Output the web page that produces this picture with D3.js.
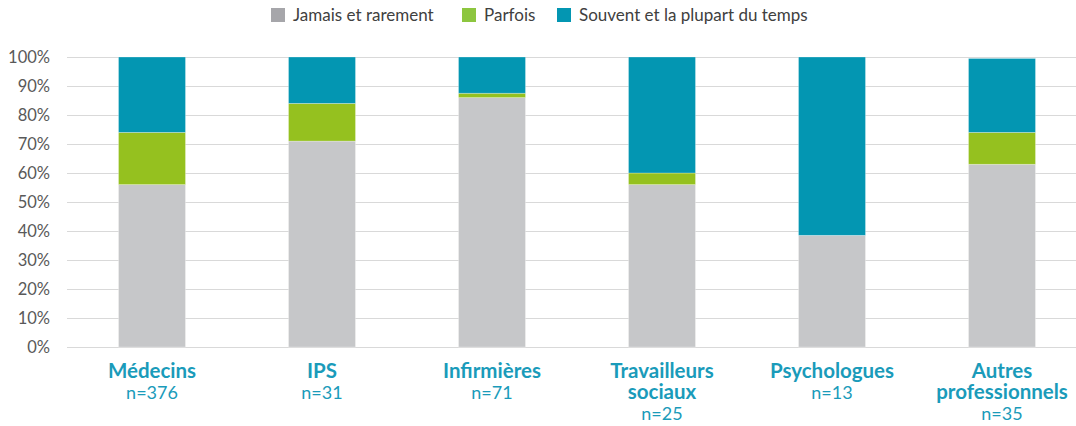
<!DOCTYPE html>
<html>
<head>
<meta charset="utf-8">
<script src="https://cdn.jsdelivr.net/npm/d3@7"></script>
<style>
  body { margin: 0; background: #fff; }
  svg text { font-family: Lato, "Open Sans", sans-serif; }
</style>
</head>
<body>
<div id="chart"></div>
<script>
// categories and sample sizes
var categories = ["Médecins", "IPS", "Infirmières", "Travailleurs sociaux", "Psychologues", "Autres professionnels"];
var catLines = [["Médecins"], ["IPS"], ["Infirmières"], ["Travailleurs", "sociaux"], ["Psychologues"], ["Autres", "professionnels"]];
var sampleN = [376, 31, 71, 25, 13, 35];

// series values (%)
var jamais  = [56, 71, 86, 56, 38.5, 63];
var parfois = [18, 13, 1.5, 4, 0, 11];
var souvent = [26, 16, 12.5, 40, 61.5, 25.5];

var seriesNames = ["Jamais et rarement", "Parfois", "Souvent et la plupart du temps"];
var seriesColors = ["#c6c7c9", "#95c11f", "#0396b2"];
var yTicks = [0, 10, 20, 30, 40, 50, 60, 70, 80, 90, 100];

var W = 1076, H = 426;
var plotLeft = 67, plotRight = 1087, plotTop = 57, plotBottom = 347;

var svg = d3.select("#chart").append("svg")
    .attr("width", W)
    .attr("height", H);

var x = d3.scaleBand().domain(categories).range([plotLeft, plotRight]).padding(0);
var y = d3.scaleLinear().domain([0, 100]).range([plotBottom, plotTop]);
var barW = x.bandwidth() * 0.394;

// gridlines
svg.append("g").selectAll("line")
    .data(yTicks)
    .enter()
    .append("line")
    .attr("x1", plotLeft)
    .attr("x2", plotRight)
    .attr("y1", function (d) { return Math.round(y(d)) + 0.5; })
    .attr("y2", function (d) { return Math.round(y(d)) + 0.5; })
    .attr("stroke", "#d9d9d9")
    .attr("stroke-width", 1);

// y labels
var yAxis = d3.axisLeft(y).tickValues(yTicks).tickFormat(function (d) { return d + "%"; }).tickSize(0).tickPadding(0);
var ya = svg.append("g").attr("transform", "translate(50,0)").call(yAxis);
ya.select(".domain").remove();
ya.selectAll("text")
    .attr("fill", "#595959")
    .attr("font-size", "16.5px")
    .attr("font-family", "Lato, sans-serif");

// stacked bars
var rows = categories.map(function (c, i) {
    return { cat: c, jamais: jamais[i], parfois: parfois[i], souvent: souvent[i] };
});
var stack = d3.stack().keys(["jamais", "parfois", "souvent"]);
var layers = stack(rows);

svg.append("g").selectAll("g")
    .data(layers)
    .enter()
    .append("g")
    .attr("fill", function (d, i) { return seriesColors[i]; })
    .selectAll("rect")
    .data(function (d) { return d; })
    .enter()
    .append("rect")
    .attr("x", function (d) { return x(d.data.cat) + (x.bandwidth() - barW) / 2; })
    .attr("width", barW)
    .attr("y", function (d) { return y(d[1]); })
    .attr("height", function (d) { return Math.max(0, y(d[0]) - y(d[1])); })
    .attr("stroke", "rgba(255,255,255,0.35)")
    .attr("stroke-width", 0.8);

// category labels
var cg = svg.append("g").selectAll("text")
    .data(categories)
    .enter()
    .append("text")
    .attr("text-anchor", "middle")
    .attr("fill", "#1a9bba")
    .attr("x", function (d) { return x(d) + x.bandwidth() / 2; })
    .attr("y", 378);

cg.each(function (d, i) {
    var t = d3.select(this);
    catLines[i].forEach(function (line, k) {
        t.append("tspan")
            .attr("x", x(d) + x.bandwidth() / 2)
            .attr("dy", k === 0 ? 0 : 21)
            .attr("font-weight", "bold")
            .attr("font-size", "20.5px")
            .text(line);
    });
    t.append("tspan")
        .attr("x", x(d) + x.bandwidth() / 2)
        .attr("dy", 21)
        .attr("font-size", "18px")
        .text("n=" + sampleN[i]);
});

// legend
var legX = [271, 462, 557];
var leg = svg.append("g").selectAll("g")
    .data(seriesNames)
    .enter()
    .append("g")
    .attr("transform", function (d, i) { return "translate(" + legX[i] + ",8)"; });
leg.append("rect")
    .attr("width", 14)
    .attr("height", 14)
    .attr("fill", function (d, i) { return i === 0 ? "#a6a6aa" : (i === 1 ? "#8dc63f" : "#0396b2"); });
leg.append("text")
    .attr("x", 22)
    .attr("y", 13)
    .attr("font-size", "17px")
    .attr("fill", "#404040")
    .text(function (d) { return d; });
</script>
</body>
</html>
